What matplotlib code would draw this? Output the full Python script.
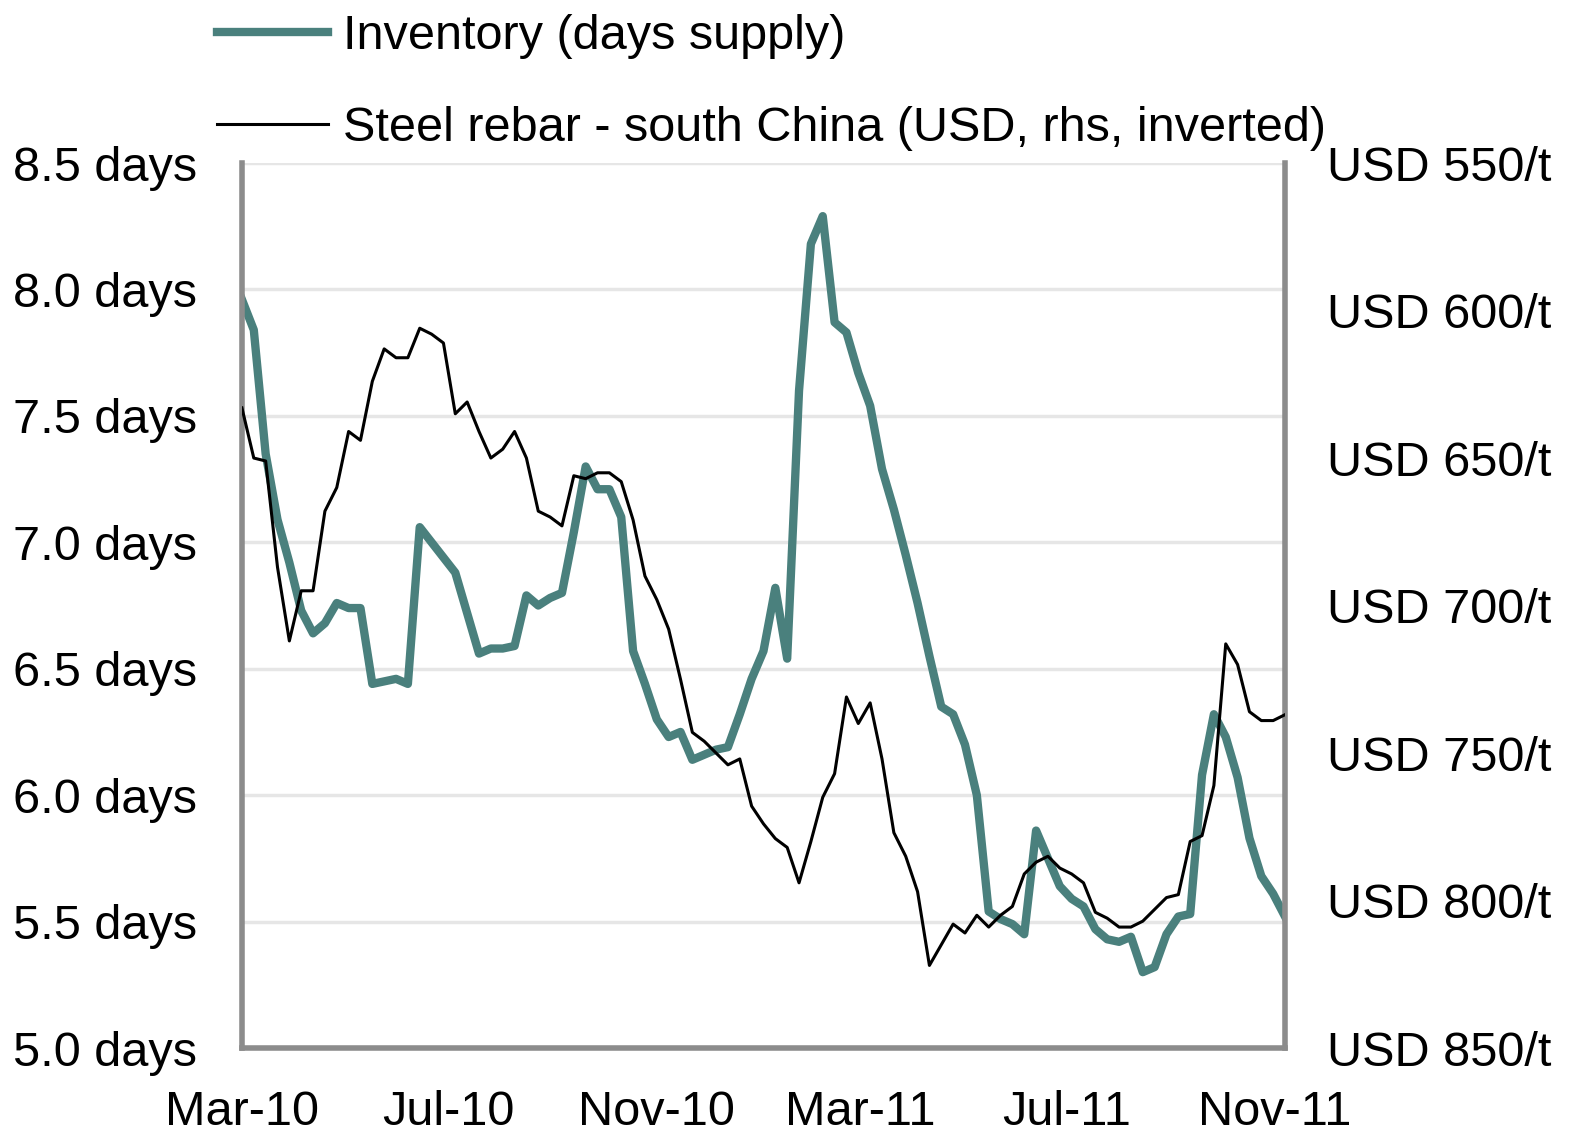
import matplotlib
matplotlib.use("Agg")
import matplotlib.pyplot as plt
import pandas as pd

plt.rcParams['font.family'] = ['Liberation Sans', 'DejaVu Sans']

# weekly readings, first week of Mar-10 to first week of Nov-11
inventory = [7.96, 7.84, 7.35, 7.09, 6.92, 6.73, 6.64, 6.68, 6.76, 6.74,
             6.74, 6.44, 6.45, 6.46, 6.44, 7.06, 7.00, 6.94, 6.88, 6.72,
             6.56, 6.58, 6.58, 6.59, 6.79, 6.75, 6.78, 6.80, 7.04, 7.30,
             7.21, 7.21, 7.10, 6.57, 6.44, 6.30, 6.23, 6.25, 6.14, 6.16,
             6.18, 6.19, 6.32, 6.46, 6.57, 6.82, 6.54, 7.60, 8.18, 8.29,
             7.87, 7.83, 7.67, 7.54, 7.29, 7.13, 6.95, 6.76, 6.55, 6.35,
             6.32, 6.20, 6.00, 5.54, 5.51, 5.49, 5.45, 5.86, 5.75, 5.64,
             5.59, 5.56, 5.47, 5.43, 5.42, 5.44, 5.30, 5.32, 5.45, 5.52,
             5.53, 6.08, 6.32, 6.23, 6.07, 5.83, 5.68, 5.61, 5.52]

rebar = [633, 650, 651, 687, 712, 695, 695, 668, 660, 641,
         644, 624, 613, 616, 616, 606, 608, 611, 635, 631,
         641, 650, 647, 641, 650, 668, 670, 673, 656, 657,
         655, 655, 658, 671, 690, 698, 708, 725, 743, 746,
         750, 754, 752, 768, 774, 779, 782, 794, 780, 765,
         757, 731, 740, 733, 752, 777, 785, 797, 822, 815,
         808, 811, 805, 809, 805, 802, 791, 787, 785, 789,
         791, 794, 804, 806, 809, 809, 807, 803, 799, 798,
         780, 778, 761, 713, 720, 736, 739, 739, 737]

dates = pd.date_range('2010-03-01', periods=len(inventory), freq='7D')

tick_dates = pd.to_datetime(['2010-03-01', '2010-07-01', '2010-11-01',
                             '2011-03-01', '2011-07-01', '2011-11-01'])
tick_labels = ['Mar-10', 'Jul-10', 'Nov-10', 'Mar-11', 'Jul-11', 'Nov-11']

left_ticks = [5.0, 5.5, 6.0, 6.5, 7.0, 7.5, 8.0, 8.5]
right_ticks = [550, 600, 650, 700, 750, 800, 850]

teal = '#4A807D'
spine_grey = '#8C8C8C'
fs = 35

fig = plt.figure(figsize=(15.69, 11.45), dpi=100)
ax = fig.add_axes([0.1542, 0.0847, 0.6648, 0.7729])
ax2 = ax.twinx()

l1, = ax.plot(dates, inventory, color=teal, lw=6, solid_joinstyle='round',
              label='Inventory (days supply)')
l2, = ax2.plot(dates, rebar, color='black', lw=2.2,
               label='Steel rebar - south China (USD, rhs, inverted)')

ax.set_xlim(dates[0], dates[-1])
ax.set_ylim(5.0, 8.5)
ax.set_yticks(left_ticks)
ax.set_yticklabels([f'{v:.1f} days' for v in left_ticks])
ax.set_xticks(tick_dates)
ax.set_xticklabels(tick_labels)
ax.grid(axis='y', color='#E6E6E6', lw=2.5)
ax.set_axisbelow(True)

ax2.set_ylim(850, 550)
ax2.set_yticks(right_ticks)
ax2.set_yticklabels([f'USD {v}/t' for v in right_ticks])

ax.tick_params(axis='both', length=0, labelsize=fs)
ax.tick_params(axis='y', pad=32)
ax.tick_params(axis='x', pad=30)
ax2.tick_params(axis='y', length=0, labelsize=fs, pad=30)

ax.spines['top'].set_visible(False)
for side in ['left', 'right', 'bottom']:
    ax.spines[side].set_color(spine_grey)
    ax.spines[side].set_linewidth(4)
for side in ax2.spines:
    ax2.spines[side].set_visible(False)

fig.legend(handles=[l1, l2], loc='upper left', bbox_to_anchor=(0.138, 0.988),
           frameon=False, fontsize=fs, handlelength=2.3, handletextpad=0.3,
           labelspacing=0.97, borderpad=0.0, borderaxespad=0.0)

fig.savefig('out.png', dpi=100)
